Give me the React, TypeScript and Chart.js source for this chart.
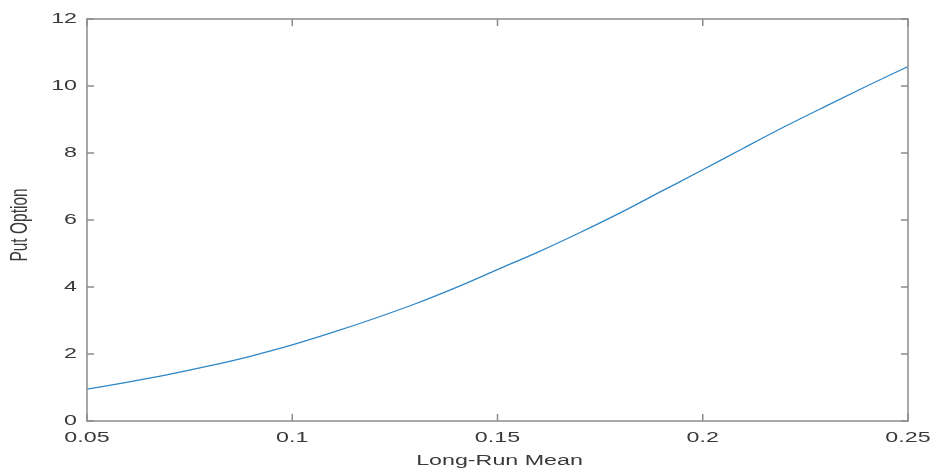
import React, { useEffect, useRef } from "react";
import { Chart, registerables } from "chart.js";

Chart.register(...registerables);

// Long-run mean values (x) and put option prices (y)
const longRunMean = [0.05, 0.06, 0.07, 0.08, 0.09, 0.10, 0.11, 0.12, 0.13, 0.14, 0.15, 0.16, 0.17, 0.18, 0.19, 0.20, 0.21, 0.22, 0.23, 0.24, 0.25];
const putOption = [0.95, 1.16, 1.39, 1.65, 1.94, 2.27, 2.65, 3.06, 3.50, 3.99, 4.52, 5.05, 5.62, 6.22, 6.86, 7.50, 8.15, 8.79, 9.40, 10.00, 10.58];

const xTicks = [0.05, 0.1, 0.15, 0.2, 0.25];
const xTickLabels = ["0.05", "0.1", "0.15", "0.2", "0.25"];
const yTicks = [0, 2, 4, 6, 8, 10, 12];
const yTickLabels = ["0", "2", "4", "6", "8", "10", "12"];

const xTitle = "Long-Run Mean";
const yTitle = "Put Option";

const TEXT_COLOR = "#3a3a3a";
const AXIS_COLOR = "#8c8c8c";
const FONT = "15.5px 'Liberation Sans', Arial, sans-serif";
const STRETCH = 1.5;

function stretchedText(ctx: CanvasRenderingContext2D, text: string, x: number, y: number, align: CanvasTextAlign) {
  ctx.save();
  ctx.translate(x, y);
  ctx.scale(STRETCH, 1);
  ctx.textAlign = align;
  ctx.textBaseline = "middle";
  ctx.fillText(text, 0, 0);
  ctx.restore();
}

const boxPlugin = {
  id: "matlabBox",
  afterDraw(chart: any) {
    const ctx: CanvasRenderingContext2D = chart.ctx;
    const { left, right, top, bottom } = chart.chartArea;
    const xs = chart.scales.x;
    const ys = chart.scales.y;
    const tickLen = 7;
    ctx.save();
    ctx.strokeStyle = AXIS_COLOR;
    ctx.lineWidth = 1.5;
    ctx.strokeRect(left, top, right - left, bottom - top);
    ctx.beginPath();
    xTicks.forEach((v) => {
      const px = xs.getPixelForValue(v);
      ctx.moveTo(px, bottom);
      ctx.lineTo(px, bottom - tickLen);
      ctx.moveTo(px, top);
      ctx.lineTo(px, top + tickLen);
    });
    yTicks.forEach((v) => {
      const py = ys.getPixelForValue(v);
      ctx.moveTo(left, py);
      ctx.lineTo(left + tickLen, py);
      ctx.moveTo(right, py);
      ctx.lineTo(right - tickLen, py);
    });
    ctx.stroke();

    ctx.fillStyle = TEXT_COLOR;
    ctx.font = FONT;
    xTicks.forEach((v, i) => {
      stretchedText(ctx, xTickLabels[i], xs.getPixelForValue(v), bottom + 17, "center");
    });
    yTicks.forEach((v, i) => {
      stretchedText(ctx, yTickLabels[i], left - 10, ys.getPixelForValue(v), "right");
    });
    // x title
    stretchedText(ctx, xTitle, (left + right) / 2 + 2, bottom + 40, "center");
    // y title (rotated)
    ctx.save();
    ctx.translate(21, (top + bottom) / 2 + 5);
    ctx.rotate(-Math.PI / 2);
    ctx.scale(1, STRETCH);
    ctx.textAlign = "center";
    ctx.textBaseline = "middle";
    ctx.fillText(yTitle, 0, 0);
    ctx.restore();
    ctx.restore();
  },
};

export default function App() {
  const ref = useRef<HTMLCanvasElement | null>(null);
  useEffect(() => {
    document.body.style.margin = "0";
    const canvas = ref.current!;
    const chart = new Chart(canvas, {
      type: "line",
      data: {
        datasets: [
          {
            data: longRunMean.map((x, i) => ({ x, y: putOption[i] })),
            borderColor: "#2e86c6",
            borderWidth: 1.3,
            pointRadius: 0,
            fill: false,
            cubicInterpolationMode: "monotone",
          },
        ],
      },
      options: {
        animation: false,
        responsive: false,
        devicePixelRatio: 1,
        layout: { padding: { left: 87, right: 28, top: 19, bottom: 50 } },
        plugins: { legend: { display: false }, tooltip: { enabled: false } },
        scales: {
          x: { type: "linear", min: 0.05, max: 0.25, display: false },
          y: { type: "linear", min: 0, max: 12, display: false },
        },
      },
      plugins: [boxPlugin],
    } as any);
    return () => chart.destroy();
  }, []);
  return (
    <div style={{ width: 936, height: 471, background: "#fff" }}>
      <canvas ref={ref} width={936} height={471} />
    </div>
  );
}
